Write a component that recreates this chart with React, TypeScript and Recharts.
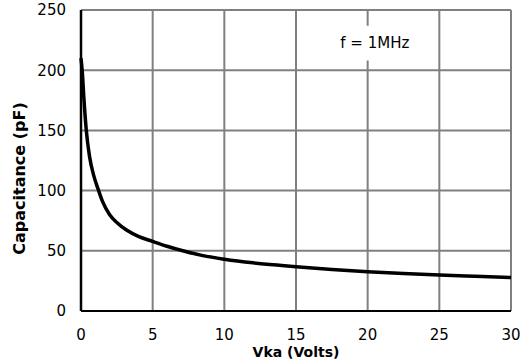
import {
  LineChart,
  Line,
  XAxis,
  YAxis,
  CartesianGrid,
  ReferenceArea,
  Label,
} from 'recharts';

// reverse voltage (V) and junction capacitance (pF)
const vka = [0, 0.1, 0.2, 0.37, 0.6, 0.9, 1.2, 1.5, 2, 2.5, 3.2, 4, 5, 6, 7.1, 8.5, 10, 12, 14, 15, 17.5, 20, 22.5, 25, 27.5, 30];
const capacitance = [210, 197, 177, 150, 128, 112, 101, 91, 80, 73.5, 67, 62, 57.8, 53.8, 50, 46, 43, 40, 37.8, 36.8, 34.5, 32.7, 31.2, 29.9, 28.8, 27.8];

const xTicks = [0, 5, 10, 15, 20, 25, 30];
const yTicks = [0, 50, 100, 150, 200, 250];

const data = vka.map((v, i) => ({ v, c: capacitance[i] }));

const tickStyle = { fill: '#000', fontSize: 15, fontFamily: 'DejaVu Sans' };

export default function App() {
  return (
    <div style={{ position: 'absolute', top: 0, left: 0, background: '#fff' }}>
      <LineChart
        width={532}
        height={363}
        data={data}
        margin={{ top: 10, right: 21, left: 0, bottom: 0 }}
      >
        <CartesianGrid stroke="#808080" strokeWidth={2} horizontalValues={yTicks} verticalValues={xTicks} />
        <ReferenceArea
          x1={17.9}
          x2={23.1}
          y1={208}
          y2={237}
          fill="#fff"
          fillOpacity={1}
          stroke="none"
        >
          <Label
            value="f = 1MHz"
            position="center"
            fill="#000"
            fontSize={15}
            fontFamily="DejaVu Sans"
          />
        </ReferenceArea>
        <XAxis
          dataKey="v"
          type="number"
          domain={[0, 30]}
          ticks={xTicks}
          height={52}
          tickLine={false}
          tickMargin={12}
          axisLine={{ stroke: '#000', strokeWidth: 2 }}
          tick={tickStyle}
          interval={0}
        >
          <Label
            content={({ viewBox }: any) => (
              <text
                x={viewBox.x + viewBox.width / 2}
                y={viewBox.y + 46}
                textAnchor="middle"
                fontFamily="DejaVu Sans"
                fontWeight="bold"
                fontSize={14}
                fill="#000"
              >
                Vka (Volts)
              </text>
            )}
          />
        </XAxis>
        <YAxis
          type="number"
          domain={[0, 250]}
          ticks={yTicks}
          width={81}
          tickLine={false}
          tickMargin={9}
          axisLine={{ stroke: '#000', strokeWidth: 2.5 }}
          tick={tickStyle}
          interval={0}
        >
          <Label
            content={({ viewBox }: any) => {
              const cx = viewBox.x + 19;
              const cy = viewBox.y + viewBox.height / 2 + 18;
              return (
                <text
                  x={cx}
                  y={cy}
                  transform={`rotate(-90 ${cx} ${cy})`}
                  textAnchor="middle"
                  dominantBaseline="central"
                  fontFamily="DejaVu Sans"
                  fontWeight="bold"
                  fontSize={16}
                  fill="#000"
                >
                  Capacitance (pF)
                </text>
              );
            }}
          />
        </YAxis>
        <Line
          type="monotone"
          dataKey="c"
          stroke="#000"
          strokeWidth={3.5}
          dot={false}
          isAnimationActive={false}
        />
      </LineChart>
    </div>
  );
}
